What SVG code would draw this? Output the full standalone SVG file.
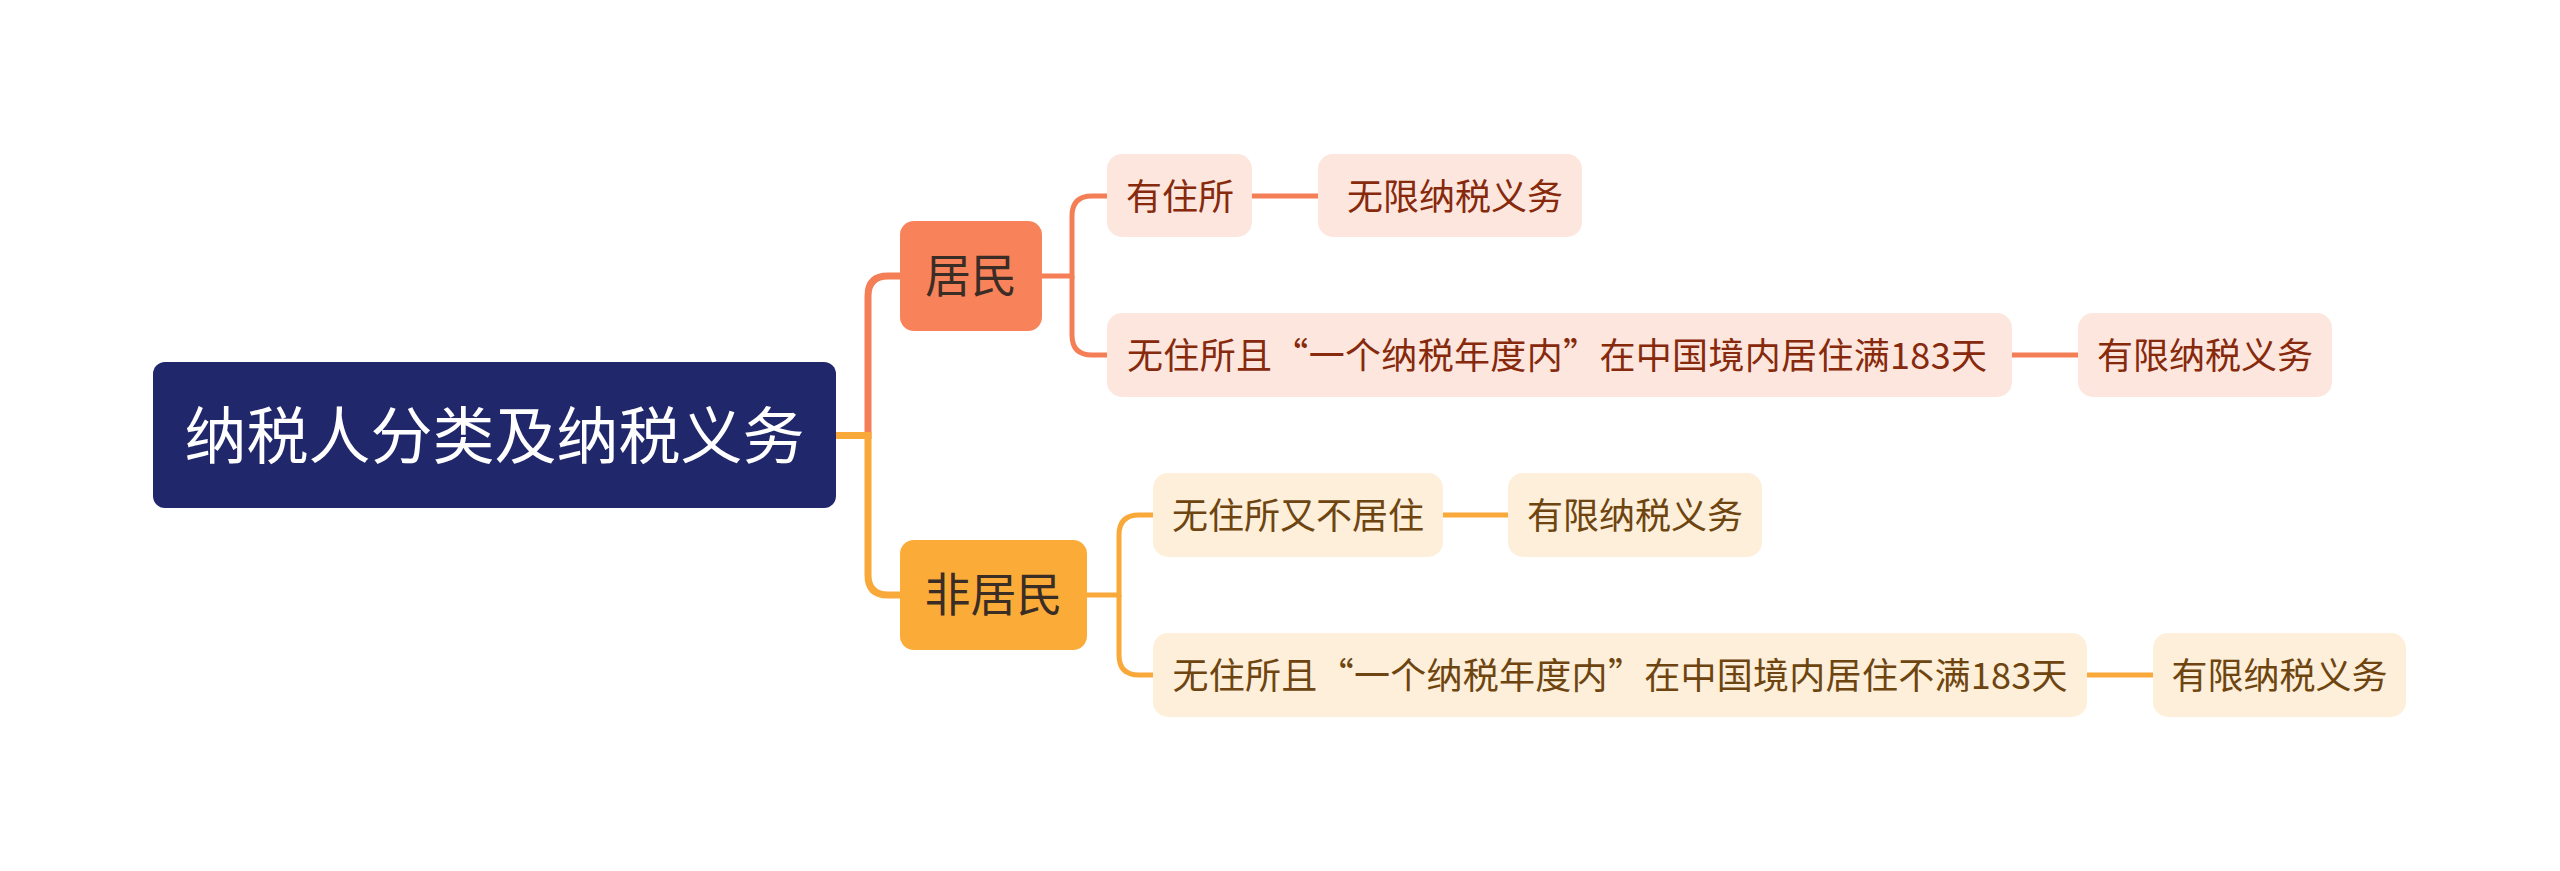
<svg xmlns="http://www.w3.org/2000/svg" width="2560" height="871" viewBox="0 0 2560 871">
<style>
text{font-family:"Noto Sans CJK SC","Noto Sans",sans-serif;dominant-baseline:central;text-anchor:middle}
.root rect{fill:#20276a}
.root text{fill:#ffffff;font-size:62px}
.res rect{fill:#f8825a}
.nres rect{fill:#fbab38}
.main text{fill:#3a2d26;font-size:46px}
.rc rect{fill:#fde6dd}
.rc text{fill:#86290c;font-size:36px}
.nc rect{fill:#fdefd9}
.nc text{fill:#6e4510;font-size:36px}
.c{fill:none;stroke-linecap:butt}
.cr{stroke:#f47f56}
.cn{stroke:#f9a83a}
.w1{stroke-width:7}
.w2{stroke-width:5}
</style>
<rect width="2560" height="871" fill="#ffffff"/>
<g id="connectors">
<path class="c cr w1" d="M836,435.5 H868 V296 Q868,276 888,276 H900"/>
<path class="c cn w1" d="M836,435.5 H868 V575 Q868,595 888,595 H900"/>
<path class="c cr w2" d="M1042,276 H1072 V216 Q1072,196 1092,196 H1107"/>
<path class="c cr w2" d="M1072,276 V335 Q1072,355 1092,355 H1107"/>
<path class="c cn w2" d="M1087,595 H1119 V535 Q1119,515 1139,515 H1153"/>
<path class="c cn w2" d="M1119,595 V655 Q1119,675 1139,675 H1153"/>
<path class="c cr w2" d="M1252,196 H1318"/>
<path class="c cr w2" d="M2012,355 H2078"/>
<path class="c cn w2" d="M1443,515 H1508"/>
<path class="c cn w2" d="M2087,675 H2153"/>
</g>
<g id="root" class="root">
<rect x="153" y="362" width="683" height="146" rx="12"/>
<text x="494.5" y="432">纳税人分类及纳税义务</text>
</g>
<g id="resident" class="res main">
<rect x="900" y="221" width="142" height="110" rx="14"/>
<text x="971" y="272">居民</text>
</g>
<g id="nonresident" class="nres main">
<rect x="900" y="540" width="187" height="110" rx="14"/>
<text x="993.5" y="591">非居民</text>
</g>
<g id="r1" class="rc">
<rect x="1107" y="154" width="145" height="83" rx="15"/>
<text x="1180" y="193.5">有住所</text>
</g>
<g id="r1a" class="rc">
<rect x="1318" y="154" width="264" height="83" rx="15"/>
<text x="1455" y="193.5">无限纳税义务</text>
</g>
<g id="r2" class="rc">
<rect x="1107" y="313" width="905" height="84" rx="15"/>
<text x="1557" y="353" textLength="860" lengthAdjust="spacing">无住所且“一个纳税年度内”在中国境内居住满183天</text>
</g>
<g id="r2a" class="rc">
<rect x="2078" y="313" width="254" height="84" rx="15"/>
<text x="2205" y="353">有限纳税义务</text>
</g>
<g id="n1" class="nc">
<rect x="1153" y="473" width="290" height="84" rx="15"/>
<text x="1298" y="513">无住所又不居住</text>
</g>
<g id="n1a" class="nc">
<rect x="1508" y="473" width="254" height="84" rx="15"/>
<text x="1635" y="513">有限纳税义务</text>
</g>
<g id="n2" class="nc">
<rect x="1153" y="633" width="934" height="84" rx="15"/>
<text x="1620" y="673" textLength="895" lengthAdjust="spacing">无住所且“一个纳税年度内”在中国境内居住不满183天</text>
</g>
<g id="n2a" class="nc">
<rect x="2153" y="633" width="253" height="84" rx="15"/>
<text x="2279.5" y="673">有限纳税义务</text>
</g>
</svg>
